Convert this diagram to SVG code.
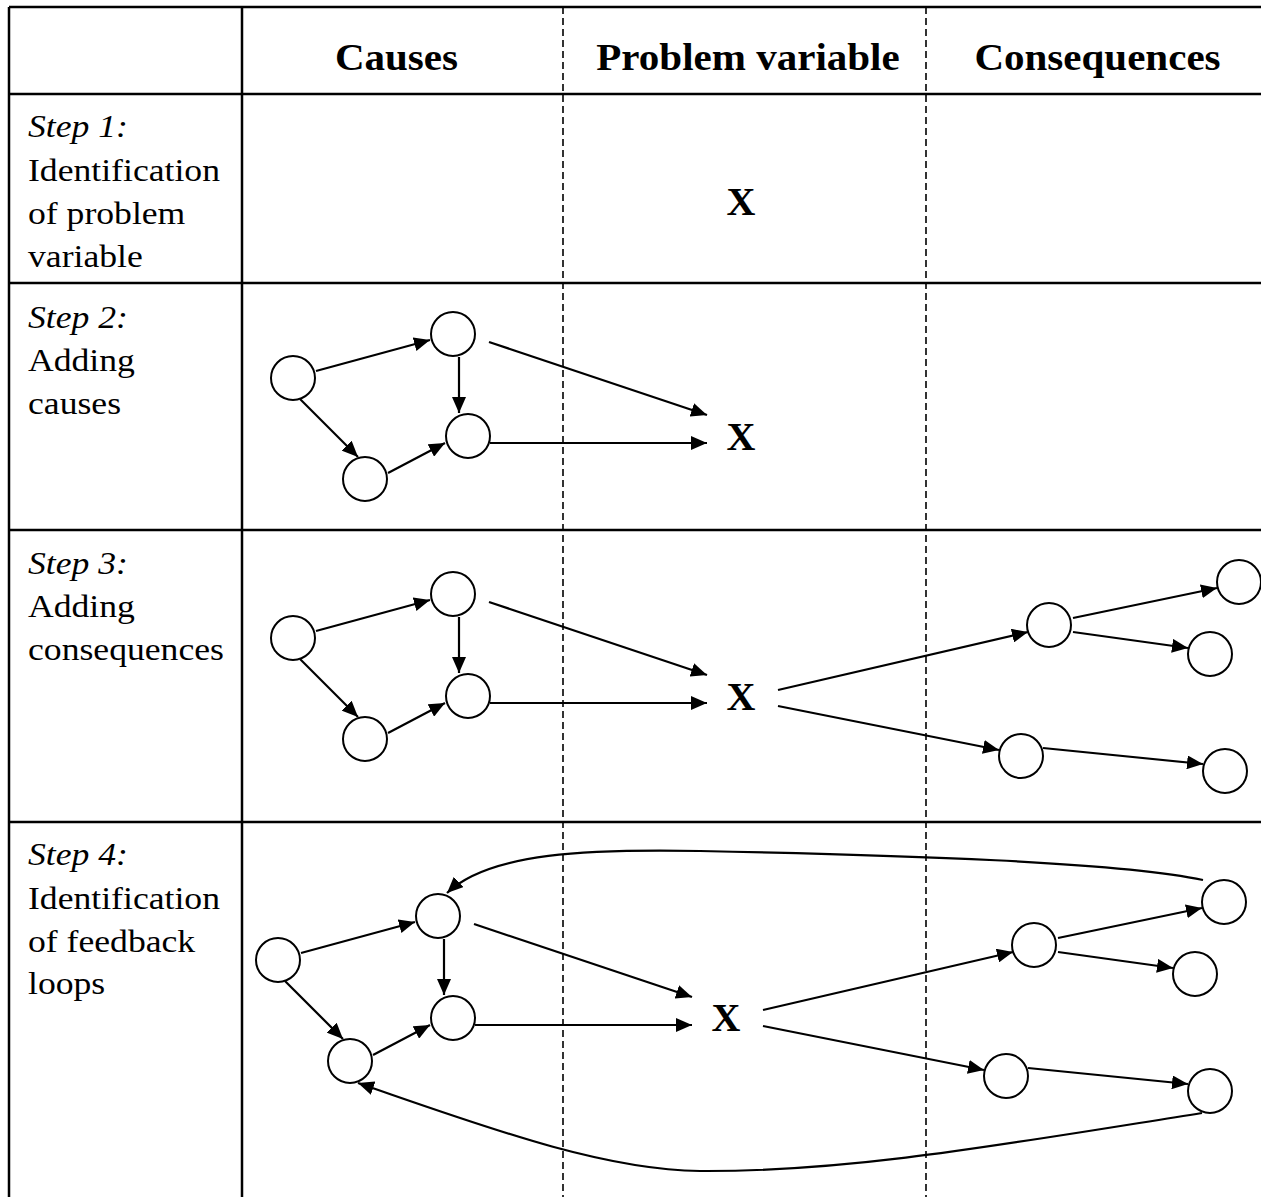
<svg xmlns="http://www.w3.org/2000/svg" width="1261" height="1197" viewBox="0 0 1261 1197">
<defs>
<marker id="ah" markerUnits="userSpaceOnUse" markerWidth="17" markerHeight="14" refX="16" refY="7" orient="auto" viewBox="0 0 17 14">
<path d="M0,0 L16,7 L0,14 z" fill="#000"/>
</marker>
<style>
.grid{stroke:#000;stroke-width:2.5;fill:none}
.dash{stroke:#000;stroke-width:1.6;stroke-dasharray:7,4;fill:none}
.node{fill:#fff;stroke:#000;stroke-width:2}
.edge{stroke:#000;stroke-width:2.2;fill:none;marker-end:url(#ah)}
.hdr{font-family:"Liberation Serif","Times New Roman",serif;font-weight:bold;font-size:38px;text-anchor:middle}
.lbl{font-family:"Liberation Serif","Times New Roman",serif;font-size:31px}
.it{font-style:italic}
.x{font-family:"Liberation Serif","Times New Roman",serif;font-weight:bold;font-size:40px;text-anchor:middle}
</style>
</defs>
<rect width="1261" height="1197" fill="#fff"/>
<g id="table">
<path class="grid" d="M9,7 H1261 M9,94 H1261 M9,283 H1261 M9,530 H1261 M9,822 H1261 M9,7 V1197 M242,7 V1197"/>
<path class="dash" d="M563,7 V1197 M926,7 V1197"/>
</g>
<g id="header" transform="scale(1.08,1)">
<text class="hdr" x="367.1" y="70">Causes</text>
<text class="hdr" x="692.6" y="70">Problem variable</text>
<text class="hdr" x="1016.2" y="70">Consequences</text>
</g>
<g id="row-labels" transform="translate(28,0) scale(1.15,1)">
<text class="lbl" x="0" y="137"><tspan class="it">Step 1:</tspan></text>
<text class="lbl" x="0" y="181">Identification</text>
<text class="lbl" x="0" y="224">of problem</text>
<text class="lbl" x="0" y="267">variable</text>
<text class="lbl" x="0" y="328"><tspan class="it">Step 2:</tspan></text>
<text class="lbl" x="0" y="371">Adding</text>
<text class="lbl" x="0" y="414">causes</text>
<text class="lbl" x="0" y="574"><tspan class="it">Step 3:</tspan></text>
<text class="lbl" x="0" y="617">Adding</text>
<text class="lbl" x="0" y="660">consequences</text>
<text class="lbl" x="0" y="865"><tspan class="it">Step 4:</tspan></text>
<text class="lbl" x="0" y="909">Identification</text>
<text class="lbl" x="0" y="952">of feedback</text>
<text class="lbl" x="0" y="994">loops</text>
</g>
<g id="connectors">
<path class="edge" d="M316,371 L430,340"/>
<path class="edge" d="M300,399 L358,457"/>
<path class="edge" d="M459,357 L459,413"/>
<path class="edge" d="M388,473 L445,443"/>
<path class="edge" d="M489,342 L707,415"/>
<path class="edge" d="M490,443 L707,443"/>
<path class="edge" d="M316,631 L430,600"/>
<path class="edge" d="M300,659 L358,717"/>
<path class="edge" d="M459,617 L459,673"/>
<path class="edge" d="M388,733 L445,703"/>
<path class="edge" d="M489,602 L707,675"/>
<path class="edge" d="M490,703 L707,703"/>
<path class="edge" d="M778,690 L1028,632"/>
<path class="edge" d="M778,706 L999,750"/>
<path class="edge" d="M1073,618 L1217,588"/>
<path class="edge" d="M1073,632 L1188,648"/>
<path class="edge" d="M1043,748 L1203,764"/>
<path class="edge" d="M301,953 L415,922"/>
<path class="edge" d="M285,981 L343,1039"/>
<path class="edge" d="M444,939 L444,995"/>
<path class="edge" d="M373,1055 L430,1025"/>
<path class="edge" d="M474,924 L692,997"/>
<path class="edge" d="M475,1025 L692,1025"/>
<path class="edge" d="M763,1010 L1013,952"/>
<path class="edge" d="M763,1026 L984,1070"/>
<path class="edge" d="M1058,938 L1202,908"/>
<path class="edge" d="M1058,952 L1173,968"/>
<path class="edge" d="M1028,1068 L1188,1084"/>
<path class="edge" d="M1203,880 C1120,862 900,855 700,851 C590,849 490,852 447,893"/>
<path class="edge" d="M1202,1113 C1000,1145 850,1172 700,1171 C600,1170 480,1125 358,1083"/>
</g>
<g id="step1-x"><text class="x" x="741" y="215">X</text></g>
<g id="step2-x"><text class="x" x="741" y="450">X</text></g>
<g id="step2-a"><circle class="node" cx="293" cy="378" r="22"/></g>
<g id="step2-b"><circle class="node" cx="453" cy="334" r="22"/></g>
<g id="step2-c"><circle class="node" cx="468" cy="436" r="22"/></g>
<g id="step2-d"><circle class="node" cx="365" cy="479" r="22"/></g>
<g id="step3-x"><text class="x" x="741" y="710">X</text></g>
<g id="step3-a"><circle class="node" cx="293" cy="638" r="22"/></g>
<g id="step3-b"><circle class="node" cx="453" cy="594" r="22"/></g>
<g id="step3-c"><circle class="node" cx="468" cy="696" r="22"/></g>
<g id="step3-d"><circle class="node" cx="365" cy="739" r="22"/></g>
<g id="step3-e"><circle class="node" cx="1049" cy="625" r="22"/></g>
<g id="step3-f"><circle class="node" cx="1239" cy="582" r="22"/></g>
<g id="step3-g"><circle class="node" cx="1210" cy="654" r="22"/></g>
<g id="step3-h"><circle class="node" cx="1021" cy="756" r="22"/></g>
<g id="step3-i"><circle class="node" cx="1225" cy="771" r="22"/></g>
<g id="step4-x"><text class="x" x="726" y="1031">X</text></g>
<g id="step4-a"><circle class="node" cx="278" cy="960" r="22"/></g>
<g id="step4-b"><circle class="node" cx="438" cy="916" r="22"/></g>
<g id="step4-c"><circle class="node" cx="453" cy="1018" r="22"/></g>
<g id="step4-d"><circle class="node" cx="350" cy="1061" r="22"/></g>
<g id="step4-e"><circle class="node" cx="1034" cy="945" r="22"/></g>
<g id="step4-f"><circle class="node" cx="1224" cy="902" r="22"/></g>
<g id="step4-g"><circle class="node" cx="1195" cy="974" r="22"/></g>
<g id="step4-h"><circle class="node" cx="1006" cy="1076" r="22"/></g>
<g id="step4-i"><circle class="node" cx="1210" cy="1091" r="22"/></g>
</svg>
